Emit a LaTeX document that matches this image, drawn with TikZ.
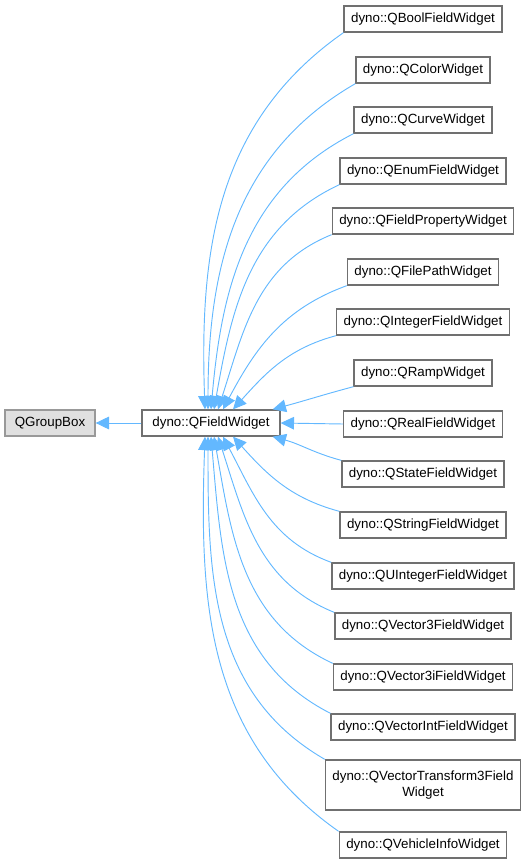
\documentclass[tikz,border=0pt]{standalone}
\usepackage{fontspec}
\setmainfont{Liberation Sans}
\usetikzlibrary{arrows.meta}

\definecolor{edgeblue}{HTML}{63B8FF}
\definecolor{boxline}{HTML}{707070}
\definecolor{extfill}{HTML}{E0E0E0}
\definecolor{extline}{HTML}{999999}

\tikzset{
  cls/.style={draw=boxline, fill=white, line width=1pt, minimum height=19.5pt,
    inner xsep=5.25pt, inner ysep=2pt, font=\fontsize{10}{11.5}\selectfont},
  extcls/.style={cls, draw=extline, fill=extfill},
  inherit/.style={draw=edgeblue, line width=0.7pt, -{Triangle[length=10pt,width=9.5pt]}}
}

\begin{document}
\begin{tikzpicture}[x=0.75pt,y=0.75pt]
\useasboundingbox (0,0) rectangle (531,-864);

% Base classes
\node[extcls, minimum width=67.5pt] (gbox) at (50,-423) {QGroupBox};
\node[cls, minimum width=103.5pt] (fw) at (211,-423) {dyno::QFieldWidget};
\draw[inherit] (fw) -- (gbox);

% Derived classes
\foreach \nm/\txt/\y in {
  bool/QBoolFieldWidget/19, color/QColorWidget/70, curve/QCurveWidget/120,
  enum/QEnumFieldWidget/171, fprop/QFieldPropertyWidget/221,
  fpath/QFilePathWidget/272, int/QIntegerFieldWidget/322,
  ramp/QRampWidget/373, real/QRealFieldWidget/424,
  state/QStateFieldWidget/474, str/QStringFieldWidget/525,
  uint/QUIntegerFieldWidget/576, vec3/QVector3FieldWidget/626,
  vec3i/QVector3iFieldWidget/677, vint/QVectorIntFieldWidget/727,
  vehicle/QVehicleInfoWidget/845}
  \node[cls] (\nm) at (423,-\y) {dyno::\txt};
\node[cls, align=center, minimum height=37.5pt] (vtrans) at (423,-785)
  {dyno::QVectorTransform3Field\\Widget};

% Inheritance edges
\foreach \nm/\src/\o/\dx/\tgt/\i in {
  bool/south west/215/-6/north/92, color/south west/210/-3/north/90,
  curve/south west/207/0/north/85, enum/south west/205/3/north/80,
  fprop/south west/202/7/north/72, fpath/south west/200/12/north/62,
  int/south west/195/22/north/48, ramp/south west/195/-8/north east/15,
  state/north west/165/-8/south east/-15,
  str/north west/165/22/south/-48, uint/north west/160/12/south/-62,
  vec3/north west/158/7/south/-72, vec3i/north west/155/3/south/-80,
  vint/north west/153/0/south/-85, vtrans/north west/150/-3/south/-90,
  vehicle/north west/145/-6/south/-92}
  \draw[inherit] (\nm.\src) to[out=\o,in=\i] ([xshift=\dx*0.75pt]fw.\tgt);
\draw[inherit] (real.west) -- (fw.east);

\end{tikzpicture}
\end{document}
